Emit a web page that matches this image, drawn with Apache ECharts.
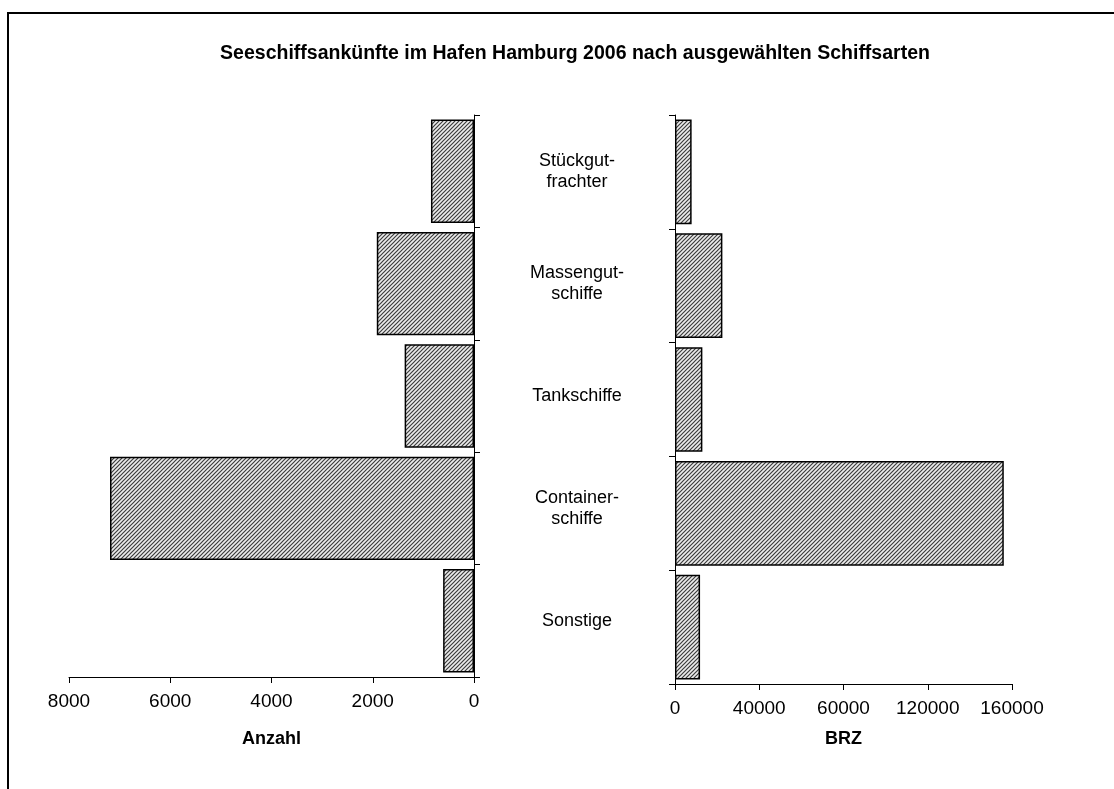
<!DOCTYPE html>
<html>
<head>
<meta charset="utf-8">
<script src="https://cdn.jsdelivr.net/npm/echarts@6/dist/echarts.min.js"></script>
<style>
  html, body { margin: 0; padding: 0; background: #fff; }
  #main { width: 1114px; height: 789px; }
</style>
</head>
<body>
<div id="main"></div>
<script>
// Seeschiffsankünfte Hamburg 2006
const categories = ['Stückgut-\nfrachter', 'Massengut-\nschiffe', 'Tankschiffe', 'Container-\nschiffe', 'Sonstige']
const anzahl = [850, 1920, 1370, 7190, 610]
const brz = [7900, 22500, 13000, 156100, 11900]
const anzahlTicks = ['0', '2000', '4000', '6000', '8000']
const brzTicks = ['0', '40000', '60000', '120000', '160000'] // so steht es im Original

const FONT = 'Liberation Sans'

// schraffur: dunkle diagonale Linien auf hellgrau
function hatch () {
  const c = document.createElement('canvas')
  c.width = 4
  c.height = 4
  const ctx = c.getContext('2d')
  ctx.fillStyle = '#ececec'
  ctx.fillRect(0, 0, 4, 4)
  ctx.strokeStyle = '#3c3c3c'
  ctx.lineWidth = 1.2
  ctx.beginPath()
  ctx.moveTo(0, 4); ctx.lineTo(4, 0)
  ctx.moveTo(-1, 1); ctx.lineTo(1, -1)
  ctx.moveTo(3, 5); ctx.lineTo(5, 3)
  ctx.stroke()
  return c
}
const pattern = { image: hatch(), repeat: 'repeat' }

const axisLine = { show: true, lineStyle: { color: '#000', width: 1 } }
const tickStyle = { show: true, length: 6, lineStyle: { color: '#000', width: 1 } }
const labelStyle = { color: '#000', fontFamily: FONT, fontSize: 18 }

const chart = echarts.init(document.getElementById('main'))
chart.setOption({
  animation: false,
  title: {
    text: 'Seeschiffsankünfte im Hafen Hamburg 2006 nach ausgewählten Schiffsarten',
    left: 570,
    textAlign: 'center',
    top: 39,
    textStyle: { color: '#000', fontFamily: FONT, fontSize: 19.5, fontWeight: 'bold' }
  },
  graphic: [
    {
      type: 'polyline',
      shape: { points: [[8, 789], [8, 13], [1114, 13]] },
      style: { stroke: '#000', lineWidth: 2, fill: null }
    }
  ],
  grid: [
    { left: 69, right: 640, top: 115, bottom: 112 },
    { left: 675, right: 102, top: 115, bottom: 105 }
  ],
  xAxis: [
    {
      gridIndex: 0,
      type: 'value',
      inverse: true,
      min: 0,
      max: 8000,
      interval: 2000,
      name: 'Anzahl',
      nameLocation: 'middle',
      nameGap: 53,
      nameTextStyle: { color: '#000', fontFamily: FONT, fontSize: 18, fontWeight: 'bold' },
      axisLine,
      axisTick: tickStyle,
      splitLine: { show: false },
      axisLabel: Object.assign({ margin: 15, formatter: v => anzahlTicks[Math.round(v / 2000)] }, labelStyle, { fontSize: 19 })
    },
    {
      gridIndex: 1,
      type: 'value',
      min: 0,
      max: 160000,
      interval: 40000,
      name: 'BRZ',
      nameLocation: 'middle',
      nameGap: 46,
      nameTextStyle: { color: '#000', fontFamily: FONT, fontSize: 18, fontWeight: 'bold' },
      axisLine,
      axisTick: tickStyle,
      splitLine: { show: false },
      axisLabel: Object.assign({ margin: 15, formatter: v => brzTicks[Math.round(v / 40000)] }, labelStyle, { fontSize: 19 })
    }
  ],
  yAxis: [
    {
      gridIndex: 0,
      type: 'category',
      data: categories,
      inverse: true,
      position: 'right',
      axisLine,
      axisTick: tickStyle,
      axisLabel: Object.assign({ margin: 103, align: 'center', lineHeight: 21, padding: [0, 0, 10, 0] }, labelStyle)
    },
    {
      gridIndex: 1,
      type: 'category',
      data: categories,
      inverse: true,
      axisLine,
      axisTick: tickStyle,
      axisLabel: { show: false }
    }
  ],
  series: [
    {
      name: 'Anzahl',
      type: 'bar',
      xAxisIndex: 0,
      yAxisIndex: 0,
      barCategoryGap: '8%',
      data: anzahl,
      itemStyle: { color: pattern, borderColor: '#000', borderWidth: 1.5 }
    },
    {
      name: 'BRZ',
      type: 'bar',
      xAxisIndex: 1,
      yAxisIndex: 1,
      barCategoryGap: '8%',
      data: brz,
      itemStyle: { color: pattern, borderColor: '#000', borderWidth: 1.5 }
    }
  ]
})
</script>
</body>
</html>
